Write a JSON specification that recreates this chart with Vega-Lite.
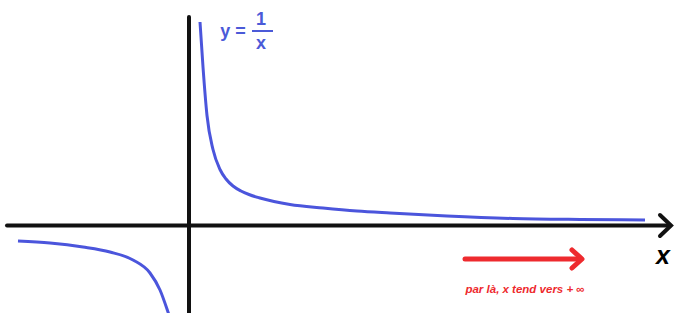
{
  "$schema": "https://vega.github.io/schema/vega-lite/v6.json",
  "width": 675,
  "height": 313,
  "autosize": {"type": "fit", "contains": "padding"},
  "padding": 0,
  "background": "white",
  "view": {"stroke": null},
  "datasets": {
    "curve": [
      {"branch": "pos", "i": 1, "x": 0.22, "y": 4.07},
      {"branch": "pos", "i": 2, "x": 0.28, "y": 3.17},
      {"branch": "pos", "i": 3, "x": 0.36, "y": 2.2},
      {"branch": "pos", "i": 4, "x": 0.48, "y": 1.52},
      {"branch": "pos", "i": 5, "x": 0.62, "y": 1.12},
      {"branch": "pos", "i": 6, "x": 0.74, "y": 0.93},
      {"branch": "pos", "i": 7, "x": 0.88, "y": 0.79},
      {"branch": "pos", "i": 8, "x": 1.04, "y": 0.69},
      {"branch": "pos", "i": 9, "x": 1.2, "y": 0.62},
      {"branch": "pos", "i": 10, "x": 1.4, "y": 0.555},
      {"branch": "pos", "i": 11, "x": 1.7, "y": 0.48},
      {"branch": "pos", "i": 12, "x": 2.02, "y": 0.42},
      {"branch": "pos", "i": 13, "x": 2.68, "y": 0.35},
      {"branch": "pos", "i": 14, "x": 3.36, "y": 0.29},
      {"branch": "pos", "i": 15, "x": 4.02, "y": 0.25},
      {"branch": "pos", "i": 16, "x": 5.16, "y": 0.19},
      {"branch": "pos", "i": 17, "x": 6.48, "y": 0.14},
      {"branch": "pos", "i": 18, "x": 7.82, "y": 0.12},
      {"branch": "pos", "i": 19, "x": 9.12, "y": 0.11},
      {"branch": "neg", "i": 1, "x": -3.42, "y": -0.31},
      {"branch": "neg", "i": 2, "x": -2.78, "y": -0.35},
      {"branch": "neg", "i": 3, "x": -2.12, "y": -0.43},
      {"branch": "neg", "i": 4, "x": -1.58, "y": -0.53},
      {"branch": "neg", "i": 5, "x": -1.12, "y": -0.69},
      {"branch": "neg", "i": 6, "x": -0.78, "y": -0.95},
      {"branch": "neg", "i": 7, "x": -0.58, "y": -1.29},
      {"branch": "neg", "i": 8, "x": -0.42, "y": -1.73},
      {"branch": "neg", "i": 9, "x": -0.38, "y": -1.85}
    ],
    "axes": [
      {"part": "xaxis", "i": 1, "x": -3.64, "y": 0.0},
      {"part": "xaxis", "i": 2, "x": 9.62, "y": 0.0},
      {"part": "yaxis", "i": 1, "x": 0.0, "y": 4.17},
      {"part": "yaxis", "i": 2, "x": 0.0, "y": -1.9},
      {"part": "xhead", "i": 1, "x": 9.42, "y": 0.21},
      {"part": "xhead", "i": 2, "x": 9.64, "y": 0.0},
      {"part": "xhead", "i": 3, "x": 9.42, "y": -0.21}
    ],
    "redarrow": [
      {"part": "shaft", "i": 1, "x": 5.52, "y": -0.67},
      {"part": "shaft", "i": 2, "x": 7.8, "y": -0.67},
      {"part": "head", "i": 1, "x": 7.66, "y": -0.49},
      {"part": "head", "i": 2, "x": 7.86, "y": -0.67},
      {"part": "head", "i": 3, "x": 7.66, "y": -0.85}
    ],
    "fracbar": [
      {"x": 1.26, "x2": 1.68, "y": 3.89}
    ],
    "labels": [
      {"label": "y =", "x": 0.88, "y": 3.87},
      {"label": "1", "x": 1.44, "y": 4.11},
      {"label": "x", "x": 1.44, "y": 3.63}
    ],
    "xlabel": [
      {"label": "x", "x": 9.48, "y": -0.61}
    ],
    "note": [
      {"label": "par là, x tend vers + ∞", "x": 6.72, "y": -1.29}
    ]
  },
  "encoding": {
    "x": {"field": "x", "type": "quantitative", "scale": {"domain": [-3.78, 9.72], "nice": false, "zero": false}, "axis": null},
    "y": {"field": "y", "type": "quantitative", "scale": {"domain": [-1.75, 4.51], "nice": false, "zero": false}, "axis": null}
  },
  "layer": [
    {
      "data": {"name": "axes"},
      "mark": {"type": "line", "color": "#111111", "strokeWidth": 4, "strokeCap": "round", "strokeJoin": "miter", "clip": true},
      "encoding": {
        "detail": {"field": "part"},
        "order": {"field": "i", "type": "quantitative"}
      }
    },
    {
      "data": {"name": "curve"},
      "mark": {"type": "line", "color": "#4b55dc", "strokeWidth": 3, "interpolate": "monotone", "clip": true},
      "encoding": {
        "detail": {"field": "branch"},
        "order": {"field": "i", "type": "quantitative"}
      }
    },
    {
      "data": {"name": "redarrow"},
      "mark": {"type": "line", "color": "#ee2a2e", "strokeWidth": 5, "strokeCap": "round", "strokeJoin": "round"},
      "encoding": {
        "detail": {"field": "part"},
        "order": {"field": "i", "type": "quantitative"}
      }
    },
    {
      "data": {"name": "fracbar"},
      "mark": {"type": "rule", "color": "#4b5ad8", "strokeWidth": 2},
      "encoding": {
        "x2": {"field": "x2"}
      }
    },
    {
      "data": {"name": "labels"},
      "mark": {"type": "text", "color": "#4b5ad8", "font": "Liberation Sans", "fontSize": 18, "fontWeight": "bold", "align": "center", "baseline": "middle"},
      "encoding": {
        "text": {"field": "label"}
      }
    },
    {
      "data": {"name": "xlabel"},
      "mark": {"type": "text", "color": "#000000", "font": "Liberation Sans", "fontSize": 25, "fontWeight": "bold", "fontStyle": "italic", "align": "center", "baseline": "middle"},
      "encoding": {
        "text": {"field": "label"}
      }
    },
    {
      "data": {"name": "note"},
      "mark": {"type": "text", "color": "#ee2a2e", "font": "Liberation Sans", "fontSize": 11.5, "fontWeight": "bold", "fontStyle": "italic", "align": "center", "baseline": "middle"},
      "encoding": {
        "text": {"field": "label"}
      }
    }
  ]
}
